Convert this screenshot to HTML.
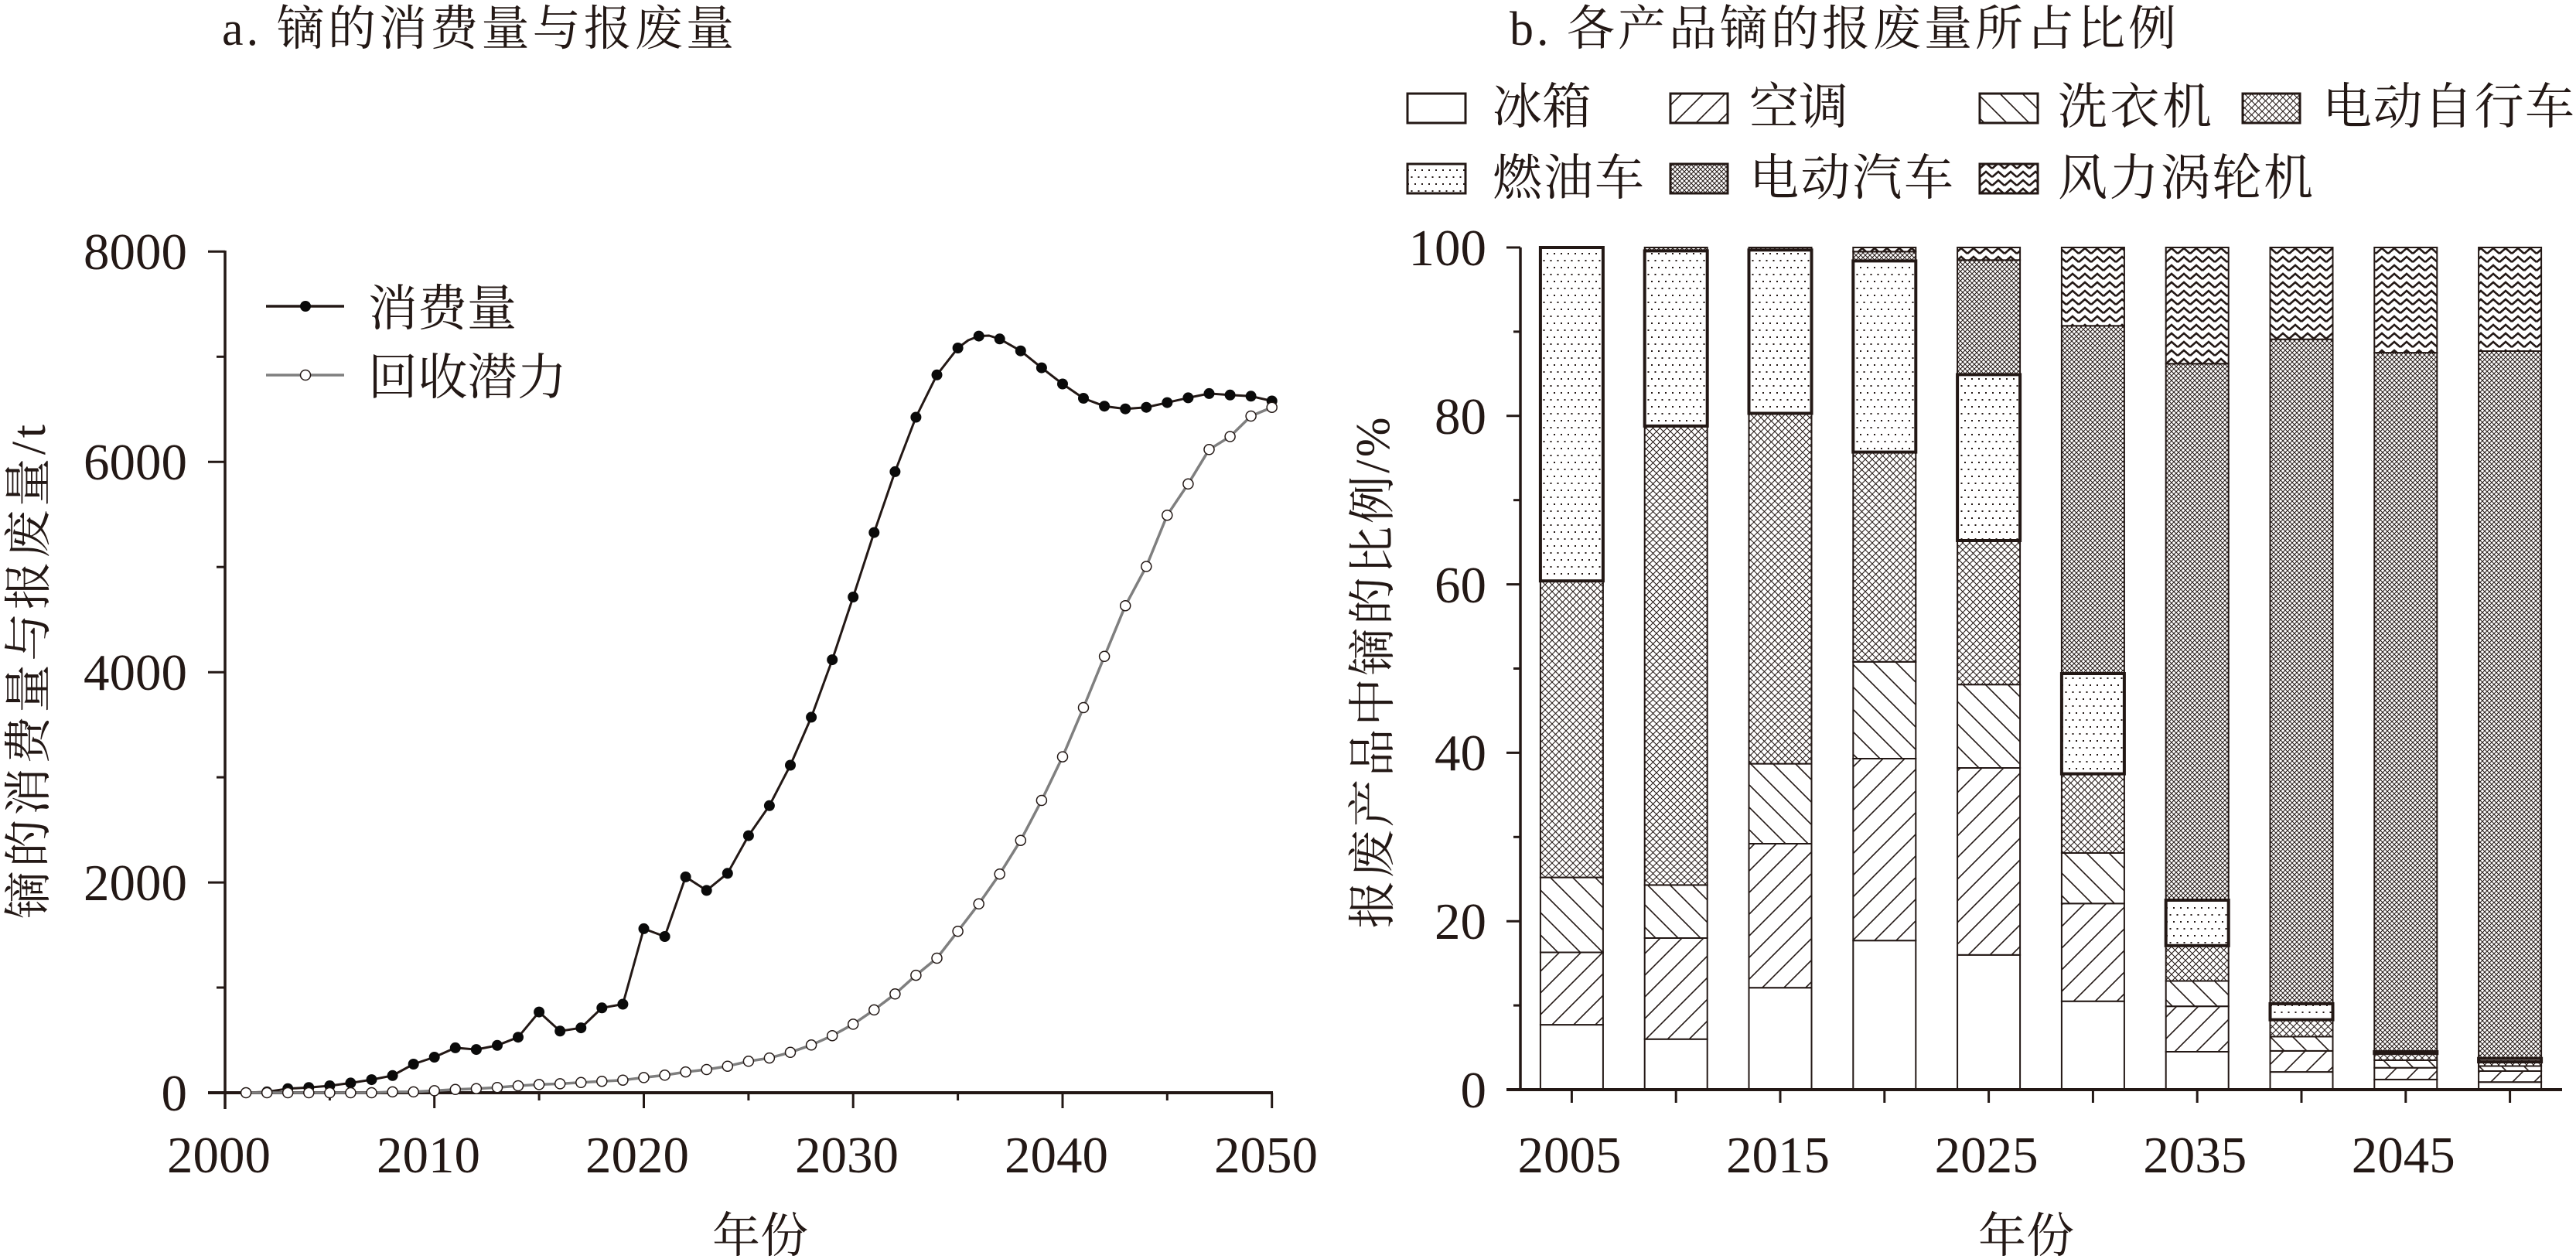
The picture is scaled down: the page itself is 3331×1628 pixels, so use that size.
<!DOCTYPE html>
<html><head><meta charset="utf-8">
<style>html,body{margin:0;padding:0;background:#fff}svg{display:block}.t{font-family:"Liberation Serif","Noto Serif CJK SC",serif}</style>
</head><body>
<svg width="3331" height="1628" viewBox="0 0 3331 1628" xmlns="http://www.w3.org/2000/svg">
<defs>
<pattern id="ac" patternUnits="userSpaceOnUse" width="28" height="28"><rect width="28" height="28" fill="#fff"/><path d="M-7,7 L7,-7 M0,28 L28,0 M21,35 L35,21" stroke="#231815" stroke-width="1.6"/></pattern>
<pattern id="wm" patternUnits="userSpaceOnUse" width="29" height="29"><rect width="29" height="29" fill="#fff"/><path d="M-7,22 L7,36 M0,0 L29,29 M22,-7 L36,7" stroke="#231815" stroke-width="1.6"/></pattern>
<pattern id="eb" patternUnits="userSpaceOnUse" width="9" height="9"><rect width="9" height="9" fill="#fff"/><path d="M0,0 L9,9 M9,0 L0,9" stroke="#231815" stroke-width="1.0"/><rect x="3.75" y="3.75" width="1.5" height="1.5" fill="#231815"/></pattern>
<pattern id="gas" patternUnits="userSpaceOnUse" width="9" height="18"><rect width="9" height="18" fill="#fff"/><rect x="2" y="3" width="2" height="2" fill="#231815"/><rect x="6.5" y="12" width="2" height="2" fill="#231815"/></pattern>
<pattern id="ev" patternUnits="userSpaceOnUse" width="6" height="6"><rect width="6" height="6" fill="#fff"/><path d="M0,0 L6,6 M6,0 L0,6" stroke="#231815" stroke-width="1.0"/></pattern>
<pattern id="wind" patternUnits="userSpaceOnUse" width="16" height="11"><rect width="16" height="11" fill="#fff"/><path d="M0,9 L8,2 L16,9" stroke="#231815" stroke-width="2.6" fill="none"/></pattern>
</defs>

<!-- ============ LEFT CHART ============ -->
<g class="t" fill="#231815">
<text x="287" y="58" font-size="62" textLength="662" lengthAdjust="spacing">a. 镝的消费量与报废量</text>
<text x="1952" y="58" font-size="62" textLength="862" lengthAdjust="spacing">b. 各产品镝的报废量所占比例</text>

<g font-size="67" text-anchor="end">
<text x="242" y="348">8000</text>
<text x="242" y="620">6000</text>
<text x="242" y="892">4000</text>
<text x="242" y="1164">2000</text>
<text x="242" y="1436">0</text>
</g>
<g font-size="67" text-anchor="middle">
<text x="283" y="1516">2000</text>
<text x="554" y="1516">2010</text>
<text x="824" y="1516">2020</text>
<text x="1095" y="1516">2030</text>
<text x="1366" y="1516">2040</text>
<text x="1637" y="1516">2050</text>
</g>
<text x="983" y="1619" font-size="62" text-anchor="middle">年份</text>
<text transform="translate(58,868.5) rotate(-90)" font-size="62" text-anchor="middle" textLength="639" lengthAdjust="spacing">镝的消费量与报废量/t</text>

<text x="476" y="421" font-size="64" textLength="192" lengthAdjust="spacing">消费量</text>
<text x="476" y="510" font-size="64" textLength="257" lengthAdjust="spacing">回收潜力</text>
</g>

<g stroke="#231815" fill="none">
<line x1="291" y1="324" x2="291" y2="1434" stroke-width="3.5"/>
<line x1="269" y1="1413" x2="1646" y2="1413" stroke-width="4"/>
<g stroke-width="3">
<line x1="269" y1="325.3" x2="291" y2="325.3"/>
<line x1="269" y1="597.2" x2="291" y2="597.2"/>
<line x1="269" y1="869.2" x2="291" y2="869.2"/>
<line x1="269" y1="1141.1" x2="291" y2="1141.1"/>
<line x1="280" y1="461.3" x2="291" y2="461.3"/>
<line x1="280" y1="733.2" x2="291" y2="733.2"/>
<line x1="280" y1="1005.1" x2="291" y2="1005.1"/>
<line x1="280" y1="1277" x2="291" y2="1277"/>
<line x1="561.7" y1="1413" x2="561.7" y2="1433"/>
<line x1="832.5" y1="1413" x2="832.5" y2="1433"/>
<line x1="1103.2" y1="1413" x2="1103.2" y2="1433"/>
<line x1="1374" y1="1413" x2="1374" y2="1433"/>
<line x1="1644.7" y1="1413" x2="1644.7" y2="1433"/>
<line x1="426.4" y1="1413" x2="426.4" y2="1423"/>
<line x1="697.1" y1="1413" x2="697.1" y2="1423"/>
<line x1="967.9" y1="1413" x2="967.9" y2="1423"/>
<line x1="1238.6" y1="1413" x2="1238.6" y2="1423"/>
<line x1="1509.3" y1="1413" x2="1509.3" y2="1423"/>
</g>
</g>

<!-- legend left -->
<line x1="344" y1="396" x2="445" y2="396" stroke="#231815" stroke-width="3.5"/>
<circle cx="395" cy="396" r="7" fill="#0a0a0a"/>
<line x1="344" y1="485" x2="445" y2="485" stroke="#7f7f7f" stroke-width="3.5"/>
<circle cx="395" cy="485" r="6.5" fill="#fff" stroke="#231815" stroke-width="1.5"/>

<!-- consumption -->
<polyline fill="none" stroke="#231815" stroke-width="3" stroke-linejoin="round" points="318.1,1413 345.2,1411.9 372.2,1407.7 399.3,1406.2 426.4,1404.0 453.4,1400.4 480.5,1396.1 507.6,1390.8 534.7,1376.0 561.7,1367.0 588.8,1354.9 615.9,1357.1 643.0,1351.8 670.0,1341.2 697.1,1308.6 724.2,1333.3 751.3,1329.1 778.3,1303.3 805.4,1298.5 832.5,1200.9 859.6,1211.0 886.6,1133.9 913.7,1151.4 940.8,1129.3 967.9,1080.6 994.9,1041.8 1022.0,989.5 1049.1,927.4 1076.2,853.1 1103.2,772.0 1130.3,688.6 1157.4,609.9 1184.4,539.5 1211.5,484.8 1238.6,450.0 1252,440 1265.7,434.6 1279,434 1292.7,438.3 1319.8,453.7 1346.9,475.6 1374.0,496.5 1401.0,515.0 1428.1,525.2 1455.2,528.7 1482.3,526.7 1509.3,520.6 1536.4,514.4 1563.5,508.9 1590.6,510.8 1617.6,512.3 1644.7,518.5"/>
<g fill="#0a0a0a">
<circle cx="318.1" cy="1413" r="7"/><circle cx="345.2" cy="1411.9" r="7"/><circle cx="372.2" cy="1407.7" r="7"/><circle cx="399.3" cy="1406.2" r="7"/><circle cx="426.4" cy="1404.0" r="7"/><circle cx="453.4" cy="1400.4" r="7"/><circle cx="480.5" cy="1396.1" r="7"/><circle cx="507.6" cy="1390.8" r="7"/><circle cx="534.7" cy="1376.0" r="7"/><circle cx="561.7" cy="1367.0" r="7"/>
<circle cx="588.8" cy="1354.9" r="7"/><circle cx="615.9" cy="1357.1" r="7"/><circle cx="643.0" cy="1351.8" r="7"/><circle cx="670.0" cy="1341.2" r="7"/><circle cx="697.1" cy="1308.6" r="7"/><circle cx="724.2" cy="1333.3" r="7"/><circle cx="751.3" cy="1329.1" r="7"/><circle cx="778.3" cy="1303.3" r="7"/><circle cx="805.4" cy="1298.5" r="7"/><circle cx="832.5" cy="1200.9" r="7"/>
<circle cx="859.6" cy="1211.0" r="7"/><circle cx="886.6" cy="1133.9" r="7"/><circle cx="913.7" cy="1151.4" r="7"/><circle cx="940.8" cy="1129.3" r="7"/><circle cx="967.9" cy="1080.6" r="7"/><circle cx="994.9" cy="1041.8" r="7"/><circle cx="1022.0" cy="989.5" r="7"/><circle cx="1049.1" cy="927.4" r="7"/><circle cx="1076.2" cy="853.1" r="7"/><circle cx="1103.2" cy="772.0" r="7"/>
<circle cx="1130.3" cy="688.6" r="7"/><circle cx="1157.4" cy="609.9" r="7"/><circle cx="1184.4" cy="539.5" r="7"/><circle cx="1211.5" cy="484.8" r="7"/><circle cx="1238.6" cy="450.0" r="7"/><circle cx="1265.7" cy="434.6" r="7"/><circle cx="1292.7" cy="438.3" r="7"/><circle cx="1319.8" cy="453.7" r="7"/><circle cx="1346.9" cy="475.6" r="7"/><circle cx="1374.0" cy="496.5" r="7"/>
<circle cx="1401.0" cy="515.0" r="7"/><circle cx="1428.1" cy="525.2" r="7"/><circle cx="1455.2" cy="528.7" r="7"/><circle cx="1482.3" cy="526.7" r="7"/><circle cx="1509.3" cy="520.6" r="7"/><circle cx="1536.4" cy="514.4" r="7"/><circle cx="1563.5" cy="508.9" r="7"/><circle cx="1590.6" cy="510.8" r="7"/><circle cx="1617.6" cy="512.3" r="7"/><circle cx="1644.7" cy="518.5" r="7"/>
</g>

<!-- recycling potential -->
<polyline fill="none" stroke="#7f7f7f" stroke-width="3.5" stroke-linejoin="round" points="318.1,1413 345.2,1413 372.2,1413 399.3,1413 426.4,1413 453.4,1413 480.5,1413 507.6,1411.9 534.7,1411.9 561.7,1410.4 588.8,1408.8 615.9,1407.7 643.0,1406.2 670.0,1404.0 697.1,1402.4 724.2,1401.4 751.3,1399.8 778.3,1398.2 805.4,1396.7 832.5,1393.4 859.6,1390.3 886.6,1386.1 913.7,1383.0 940.8,1378.7 967.9,1372.3 994.9,1368.1 1022.0,1360.8 1049.1,1351.3 1076.2,1339.2 1103.2,1324.4 1130.3,1305.9 1157.4,1285.3 1184.4,1261.1 1211.5,1239.0 1238.6,1204.2 1265.7,1168.8 1292.7,1130.2 1319.8,1086.7 1346.9,1035.0 1374.0,978.6 1401.0,915.0 1428.1,848.8 1455.2,783.2 1482.3,732.5 1509.3,666.2 1536.4,625.8 1563.5,581.3 1590.6,564.5 1617.6,538.0 1644.7,526.7"/>
<g fill="#fff" stroke="#231815" stroke-width="1.5">
<circle cx="318.1" cy="1413" r="6.5"/><circle cx="345.2" cy="1413" r="6.5"/><circle cx="372.2" cy="1413" r="6.5"/><circle cx="399.3" cy="1413" r="6.5"/><circle cx="426.4" cy="1413" r="6.5"/><circle cx="453.4" cy="1413" r="6.5"/><circle cx="480.5" cy="1413" r="6.5"/><circle cx="507.6" cy="1411.9" r="6.5"/><circle cx="534.7" cy="1411.9" r="6.5"/><circle cx="561.7" cy="1410.4" r="6.5"/>
<circle cx="588.8" cy="1408.8" r="6.5"/><circle cx="615.9" cy="1407.7" r="6.5"/><circle cx="643.0" cy="1406.2" r="6.5"/><circle cx="670.0" cy="1404.0" r="6.5"/><circle cx="697.1" cy="1402.4" r="6.5"/><circle cx="724.2" cy="1401.4" r="6.5"/><circle cx="751.3" cy="1399.8" r="6.5"/><circle cx="778.3" cy="1398.2" r="6.5"/><circle cx="805.4" cy="1396.7" r="6.5"/><circle cx="832.5" cy="1393.4" r="6.5"/>
<circle cx="859.6" cy="1390.3" r="6.5"/><circle cx="886.6" cy="1386.1" r="6.5"/><circle cx="913.7" cy="1383.0" r="6.5"/><circle cx="940.8" cy="1378.7" r="6.5"/><circle cx="967.9" cy="1372.3" r="6.5"/><circle cx="994.9" cy="1368.1" r="6.5"/><circle cx="1022.0" cy="1360.8" r="6.5"/><circle cx="1049.1" cy="1351.3" r="6.5"/><circle cx="1076.2" cy="1339.2" r="6.5"/><circle cx="1103.2" cy="1324.4" r="6.5"/>
<circle cx="1130.3" cy="1305.9" r="6.5"/><circle cx="1157.4" cy="1285.3" r="6.5"/><circle cx="1184.4" cy="1261.1" r="6.5"/><circle cx="1211.5" cy="1239.0" r="6.5"/><circle cx="1238.6" cy="1204.2" r="6.5"/><circle cx="1265.7" cy="1168.8" r="6.5"/><circle cx="1292.7" cy="1130.2" r="6.5"/><circle cx="1319.8" cy="1086.7" r="6.5"/><circle cx="1346.9" cy="1035.0" r="6.5"/><circle cx="1374.0" cy="978.6" r="6.5"/>
<circle cx="1401.0" cy="915.0" r="6.5"/><circle cx="1428.1" cy="848.8" r="6.5"/><circle cx="1455.2" cy="783.2" r="6.5"/><circle cx="1482.3" cy="732.5" r="6.5"/><circle cx="1509.3" cy="666.2" r="6.5"/><circle cx="1536.4" cy="625.8" r="6.5"/><circle cx="1563.5" cy="581.3" r="6.5"/><circle cx="1590.6" cy="564.5" r="6.5"/><circle cx="1617.6" cy="538.0" r="6.5"/><circle cx="1644.7" cy="526.7" r="6.5"/>
</g>

<!-- ============ RIGHT CHART ============ -->
<g class="t" fill="#231815">
<g font-size="67" text-anchor="end">
<text x="1922" y="343">100</text>
<text x="1922" y="561">80</text>
<text x="1922" y="779">60</text>
<text x="1922" y="996">40</text>
<text x="1922" y="1214">20</text>
<text x="1922" y="1432">0</text>
</g>
<g font-size="67" text-anchor="middle">
<text x="2029.5" y="1516">2005</text>
<text x="2299" y="1516">2015</text>
<text x="2568.6" y="1516">2025</text>
<text x="2838.2" y="1516">2035</text>
<text x="3107.8" y="1516">2045</text>
</g>
<text x="2620" y="1619" font-size="62" text-anchor="middle">年份</text>
<text transform="translate(1796,870) rotate(-90)" font-size="62" text-anchor="middle" textLength="661" lengthAdjust="spacing">报废产品中镝的比例/%</text>

<g font-size="64">
<text x="1930" y="160" textLength="128" lengthAdjust="spacing">冰箱</text>
<text x="2262" y="160" textLength="128" lengthAdjust="spacing">空调</text>
<text x="2661" y="160" textLength="199" lengthAdjust="spacing">洗衣机</text>
<text x="3003" y="160" textLength="326" lengthAdjust="spacing">电动自行车</text>
<text x="1930" y="252" textLength="196" lengthAdjust="spacing">燃油车</text>
<text x="2262" y="252" textLength="264" lengthAdjust="spacing">电动汽车</text>
<text x="2661" y="252" textLength="330" lengthAdjust="spacing">风力涡轮机</text>
</g>
</g>

<g stroke="#231815" stroke-width="3">
<rect x="1820" y="121" width="75" height="38" fill="#fff"/>
<rect x="2160" y="121" width="74" height="38" fill="url(#ac)"/>
<rect x="2560" y="121" width="75" height="38" fill="url(#wm)"/>
<rect x="2900" y="121" width="74" height="38" fill="url(#eb)"/>
<rect x="1820" y="212" width="75" height="38" fill="url(#gas)"/>
<rect x="2160" y="212" width="74" height="38" fill="url(#ev)"/>
<rect x="2560" y="212" width="75" height="38" fill="url(#wind)"/>
</g>

<!-- bars -->
<g stroke="#231815" stroke-width="2">
<!-- 2005 -->
<rect x="1991.9" y="1325.1" width="81" height="83.9" fill="#fff"/>
<rect x="1991.9" y="1231.5" width="81" height="93.6" fill="url(#ac)"/>
<rect x="1991.9" y="1134.6" width="81" height="96.9" fill="url(#wm)"/>
<rect x="1991.9" y="751.2" width="81" height="383.4" fill="url(#eb)"/>
<!-- 2010 -->
<rect x="2126.7" y="1343.7" width="81" height="65.3" fill="#fff"/>
<rect x="2126.7" y="1213.0" width="81" height="130.7" fill="url(#ac)"/>
<rect x="2126.7" y="1144.4" width="81" height="68.6" fill="url(#wm)"/>
<rect x="2126.7" y="550.9" width="81" height="593.5" fill="url(#eb)"/>
<rect x="2126.7" y="320" width="81" height="4.4" fill="url(#ev)"/>
<!-- 2015 -->
<rect x="2261.5" y="1277.2" width="81" height="131.8" fill="#fff"/>
<rect x="2261.5" y="1091.0" width="81" height="186.2" fill="url(#ac)"/>
<rect x="2261.5" y="987.6" width="81" height="103.4" fill="url(#wm)"/>
<rect x="2261.5" y="534.5" width="81" height="453.1" fill="url(#eb)"/>
<rect x="2261.5" y="320" width="81" height="3.3" fill="url(#ev)"/>
<!-- 2020 -->
<rect x="2396.3" y="1216.2" width="81" height="192.8" fill="#fff"/>
<rect x="2396.3" y="981.0" width="81" height="235.2" fill="url(#ac)"/>
<rect x="2396.3" y="855.8" width="81" height="125.2" fill="url(#wm)"/>
<rect x="2396.3" y="584.6" width="81" height="271.2" fill="url(#eb)"/>
<rect x="2396.3" y="325.4" width="81" height="12" fill="url(#ev)"/>
<rect x="2396.3" y="320" width="81" height="5.4" fill="url(#wind)"/>
<!-- 2025 -->
<rect x="2531.1" y="1234.8" width="81" height="174.2" fill="#fff"/>
<rect x="2531.1" y="993.0" width="81" height="241.8" fill="url(#ac)"/>
<rect x="2531.1" y="885.2" width="81" height="107.8" fill="url(#wm)"/>
<rect x="2531.1" y="699.0" width="81" height="186.2" fill="url(#eb)"/>
<rect x="2531.1" y="336.3" width="81" height="148.1" fill="url(#ev)"/>
<rect x="2531.1" y="320" width="81" height="16.3" fill="url(#wind)"/>
<!-- 2030 -->
<rect x="2665.9" y="1294.7" width="81" height="114.3" fill="#fff"/>
<rect x="2665.9" y="1168.3" width="81" height="126.4" fill="url(#ac)"/>
<rect x="2665.9" y="1103.0" width="81" height="65.3" fill="url(#wm)"/>
<rect x="2665.9" y="1000.6" width="81" height="102.4" fill="url(#eb)"/>
<rect x="2665.9" y="421.3" width="81" height="449.7" fill="url(#ev)"/>
<rect x="2665.9" y="320" width="81" height="101.3" fill="url(#wind)"/>
<!-- 2035 -->
<rect x="2800.7" y="1360.0" width="81" height="49" fill="#fff"/>
<rect x="2800.7" y="1301.2" width="81" height="58.8" fill="url(#ac)"/>
<rect x="2800.7" y="1268.5" width="81" height="32.7" fill="url(#wm)"/>
<rect x="2800.7" y="1222.8" width="81" height="45.7" fill="url(#eb)"/>
<rect x="2800.7" y="470.3" width="81" height="693.7" fill="url(#ev)"/>
<rect x="2800.7" y="320" width="81" height="150.3" fill="url(#wind)"/>
<!-- 2040 -->
<rect x="2935.5" y="1386.1" width="81" height="22.9" fill="#fff"/>
<rect x="2935.5" y="1358.9" width="81" height="27.2" fill="url(#ac)"/>
<rect x="2935.5" y="1340.4" width="81" height="18.5" fill="url(#wm)"/>
<rect x="2935.5" y="1318.6" width="81" height="21.8" fill="url(#eb)"/>
<rect x="2935.5" y="438.7" width="81" height="859.2" fill="url(#ev)"/>
<rect x="2935.5" y="320" width="81" height="118.7" fill="url(#wind)"/>
<!-- 2045 -->
<rect x="3070.3" y="1395.9" width="81" height="13.1" fill="#fff"/>
<rect x="3070.3" y="1380.7" width="81" height="15.2" fill="url(#ac)"/>
<rect x="3070.3" y="1370.9" width="81" height="9.8" fill="url(#wm)"/>
<rect x="3070.3" y="1362.2" width="81" height="8.7" fill="url(#eb)"/>
<rect x="3070.3" y="456.1" width="81" height="903.9" fill="url(#ev)"/>
<rect x="3070.3" y="320" width="81" height="136.1" fill="url(#wind)"/>
<!-- 2050 -->
<rect x="3205.1" y="1399.2" width="81" height="9.8" fill="#fff"/>
<rect x="3205.1" y="1385.0" width="81" height="14.2" fill="url(#ac)"/>
<rect x="3205.1" y="1378.5" width="81" height="6.5" fill="url(#wm)"/>
<rect x="3205.1" y="1373.1" width="81" height="5.4" fill="url(#eb)"/>
<rect x="3205.1" y="454.0" width="81" height="914.7" fill="url(#ev)"/>
<rect x="3205.1" y="320" width="81" height="134" fill="url(#wind)"/>
</g>
<!-- gasoline car segments (thick outline) -->
<g stroke="#231815" stroke-width="4" fill="url(#gas)">
<rect x="1991.9" y="320" width="81" height="431.2"/>
<rect x="2126.7" y="324.4" width="81" height="226.5"/>
<rect x="2261.5" y="323.3" width="81" height="211.2"/>
<rect x="2396.3" y="337.4" width="81" height="247.2"/>
<rect x="2531.1" y="484.4" width="81" height="214.6"/>
<rect x="2665.9" y="871.0" width="81" height="129.6"/>
<rect x="2800.7" y="1164.0" width="81" height="58.8"/>
<rect x="2935.5" y="1297.9" width="81" height="20.7"/>
<rect x="3070.3" y="1360.0" width="81" height="2.2"/>
<rect x="3205.1" y="1368.7" width="81" height="4.4"/>
</g>

<!-- right axes -->
<g stroke="#231815" fill="none">
<line x1="1966" y1="320" x2="1966" y2="1411" stroke-width="3.5"/>
<line x1="1948" y1="1409" x2="3313" y2="1409" stroke-width="4"/>
<g stroke-width="3">
<line x1="1948" y1="320" x2="1966" y2="320"/>
<line x1="1948" y1="537.8" x2="1966" y2="537.8"/>
<line x1="1948" y1="755.6" x2="1966" y2="755.6"/>
<line x1="1948" y1="973.4" x2="1966" y2="973.4"/>
<line x1="1948" y1="1191.2" x2="1966" y2="1191.2"/>
<line x1="1957" y1="428.9" x2="1966" y2="428.9"/>
<line x1="1957" y1="646.7" x2="1966" y2="646.7"/>
<line x1="1957" y1="864.5" x2="1966" y2="864.5"/>
<line x1="1957" y1="1082.3" x2="1966" y2="1082.3"/>
<line x1="1957" y1="1300.1" x2="1966" y2="1300.1"/>
<line x1="2032.4" y1="1409" x2="2032.4" y2="1426"/>
<line x1="2167.2" y1="1409" x2="2167.2" y2="1426"/>
<line x1="2302.0" y1="1409" x2="2302.0" y2="1426"/>
<line x1="2436.8" y1="1409" x2="2436.8" y2="1426"/>
<line x1="2571.6" y1="1409" x2="2571.6" y2="1426"/>
<line x1="2706.4" y1="1409" x2="2706.4" y2="1426"/>
<line x1="2841.2" y1="1409" x2="2841.2" y2="1426"/>
<line x1="2976.0" y1="1409" x2="2976.0" y2="1426"/>
<line x1="3110.8" y1="1409" x2="3110.8" y2="1426"/>
<line x1="3245.6" y1="1409" x2="3245.6" y2="1426"/>
</g>
</g>
</svg>
</body></html>
